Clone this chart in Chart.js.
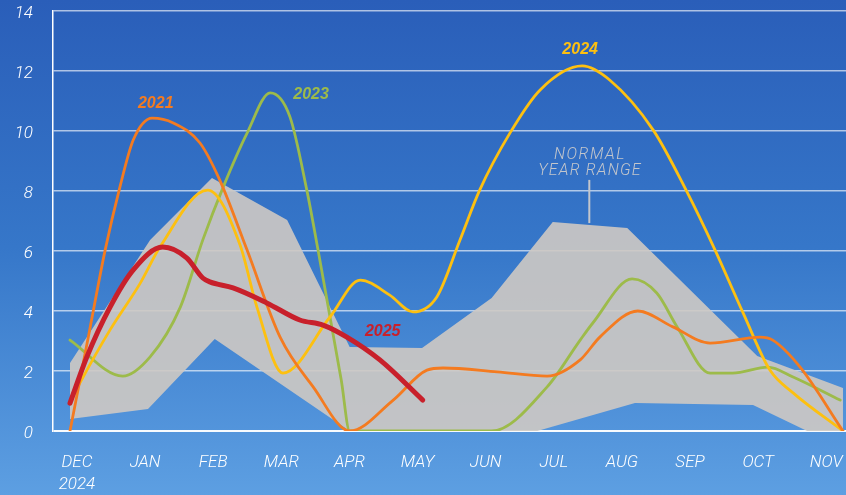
<!DOCTYPE html>
<html lang="en">
<head>
  <meta charset="UTF-8">
  <title>Monthly Range Chart</title>
  <script src="https://cdn.jsdelivr.net/npm/chart.js"></script>
  <style>
    html, body { margin: 0; padding: 0; }
    body {
      width: 846px;
      height: 495px;
      overflow: hidden;
      background: linear-gradient(180deg, #2a5eb9 0%, #3677c9 50%, #5d9fe2 100%);
    }
    canvas { display: block; }
  </style>
</head>
<body>
  <canvas id="chart" width="846" height="495"></canvas>

  <script>
    // months on the x axis (index 0 = DEC 2024)
    const months = ['DEC', 'JAN', 'FEB', 'MAR', 'APR', 'MAY', 'JUN', 'JUL', 'AUG', 'SEP', 'OCT', 'NOV'];
    const startYear = '2024';
    const yTicks = [0, 2, 4, 6, 8, 10, 12, 14];

    // normal year range (x = month index)
    const rangeTopX = [0, 1.14, 2.02, 3.09, 3.98, 5.01, 6.0, 6.87, 7.93, 9.78, 11];
    const rangeTop  = [2.27, 6.37, 8.43, 7.03, 2.8, 2.77, 4.43, 6.97, 6.77, 2.5, 1.43];
    const rangeLowX = [0, 1.11, 2.06, 3.98, 6.65, 8.04, 9.72, 10.49, 11];
    const rangeLow  = [0.4, 0.73, 3.07, 0, 0, 0.93, 0.87, 0, 0];

    // 2021
    const y2021X = [0, 0.28, 0.5, 0.71, 0.9, 1.17, 1.47, 1.85, 2.13, 2.52, 2.99, 3.46, 3.98, 4.6, 5.08, 5.31, 6.08, 6.79, 7.26, 7.54, 8.08, 8.58, 9.11, 9.82, 10.0, 10.39, 11];
    const y2021  = [0, 3.37, 6.03, 8.13, 9.7, 10.43, 10.27, 9.6, 8.37, 6.03, 3.13, 1.47, 0, 1.03, 2.03, 2.1, 1.97, 1.83, 2.37, 3.13, 4.0, 3.47, 2.93, 3.13, 3.03, 2.13, 0];

    // 2023
    const y2023X = [0, 0.75, 1.14, 1.57, 1.89, 2.18, 2.52, 2.85, 3.13, 3.37, 3.53, 3.86, 3.98, 6.0, 6.79, 7.26, 7.44, 8.0, 8.35, 8.64, 9.11, 9.43, 9.93, 10.29, 10.96];
    const y2023  = [3.03, 1.83, 2.47, 4.13, 6.37, 8.13, 9.93, 11.27, 10.47, 8.03, 6.03, 1.7, 0, 0, 1.47, 3.03, 3.6, 5.07, 4.6, 3.47, 1.93, 1.93, 2.13, 1.8, 1.03];

    // 2024
    const y2024X = [0, 0.14, 0.57, 1.0, 1.28, 1.96, 2.42, 2.66, 3.03, 3.7, 4.13, 4.55, 4.88, 5.22, 5.55, 5.83, 6.26, 6.69, 7.29, 7.68, 8.3, 8.78, 9.18, 9.58, 9.96, 10.29, 11];
    const y2024  = [0.97, 1.6, 3.37, 4.93, 6.13, 8.03, 6.2, 4.13, 1.93, 3.8, 5.03, 4.53, 3.97, 4.47, 6.37, 8.03, 9.93, 11.37, 12.17, 11.7, 10.03, 7.97, 6.03, 3.93, 2.03, 1.27, 0];

    // 2025
    const y2025X = [0, 0.24, 0.57, 0.9, 1.32, 1.66, 1.89, 1.99, 2.32, 2.8, 3.27, 3.6, 3.94, 4.41, 5.02];
    const y2025  = [0.93, 2.47, 4.13, 5.37, 6.13, 5.77, 5.1, 4.97, 4.77, 4.27, 3.7, 3.53, 3.13, 2.37, 1.03];

    const toPoints = (xs, ys) => xs.map((x, i) => ({ x: x, y: ys[i] }));

    // text tags, placed in data units
    const tags = [
      { text: '2021', x: 1.22, y: 10.9, color: '#f47b20', font: 'italic bold 16px "Liberation Sans", Arial, sans-serif' },
      { text: '2023', x: 3.43, y: 11.23, color: '#9dbb4a', font: 'italic bold 16px "Liberation Sans", Arial, sans-serif' },
      { text: '2024', x: 7.26, y: 12.73, color: '#fdc010', font: 'italic bold 16px "Liberation Sans", Arial, sans-serif' },
      { text: '2025', x: 4.45, y: 3.33, color: '#c8202b', font: 'italic bold 16px "Liberation Sans", Arial, sans-serif' },
      { text: 'NORMAL', x: 7.4, y: 9.2, color: '#c3c6cc', font: 'italic 300 16px Roboto, sans-serif', spacing: '1.5px' },
      { text: 'YEAR RANGE', x: 7.4, y: 8.67, color: '#c3c6cc', font: 'italic 300 16px Roboto, sans-serif', spacing: '1.2px' }
    ];

    const tagPlugin = {
      id: 'tags',
      afterDatasetsDraw(chart) {
        const ctx = chart.ctx;
        const xs = chart.scales.x, ys = chart.scales.y;
        ctx.save();
        ctx.textAlign = 'center';
        ctx.textBaseline = 'middle';
        tags.forEach(t => {
          ctx.font = t.font;
          ctx.fillStyle = t.color;
          ctx.letterSpacing = t.spacing || '0px';
          ctx.fillText(t.text, xs.getPixelForValue(t.x), ys.getPixelForValue(t.y));
        });
        ctx.restore();
      }
    };

    const lineStyle = (color, width, order) => ({
      borderColor: color,
      borderWidth: width,
      pointRadius: 0,
      cubicInterpolationMode: 'monotone',
      borderCapStyle: 'round',
      fill: false,
      order: order
    });

    const tickFont = { family: 'Roboto', style: 'italic', weight: 300, size: 17 };

    new Chart(document.getElementById('chart'), {
      type: 'line',
      data: {
        datasets: [
          Object.assign({ data: toPoints(y2025X, y2025) }, lineStyle('#c8202b', 5, 0)),
          Object.assign({ data: toPoints(y2021X, y2021) }, lineStyle('#f47b20', 2.8, 1)),
          Object.assign({ data: toPoints(y2024X, y2024) }, lineStyle('#fdc010', 2.8, 2)),
          Object.assign({ data: toPoints(y2023X, y2023) }, lineStyle('#9dbb4a', 2.8, 3)),
          {
            data: toPoints([7.39, 7.39], [6.93, 8.37]),
            borderColor: '#c3c6cc', borderWidth: 2, pointRadius: 0, tension: 0, fill: false, order: 4
          },
          {
            data: toPoints(rangeTopX, rangeTop),
            borderWidth: 0, pointRadius: 0, tension: 0,
            backgroundColor: 'rgba(206,201,195,0.9)',
            fill: '+1', order: 10
          },
          {
            data: toPoints(rangeLowX, rangeLow),
            borderWidth: 0, pointRadius: 0, tension: 0, fill: false, order: 11
          }
        ]
      },
      options: {
        responsive: false,
        animation: false,
        devicePixelRatio: 1,
        layout: { padding: { top: 11, right: 0, left: 0, bottom: 0 } },
        plugins: { legend: { display: false }, tooltip: { enabled: false } },
        scales: {
          x: {
            type: 'linear',
            min: -0.242,
            max: 11.043,
            display: false
          },
          months: {
            type: 'linear',
            position: 'bottom',
            min: -0.352,
            max: 11.29,
            afterBuildTicks: s => { s.ticks = months.map((m, i) => ({ value: i })); },
            afterFit: s => { s.height = 64; s.paddingLeft = 0; s.paddingRight = 0; },
            grid: { display: false, drawTicks: false },
            border: { display: false },
            ticks: {
              color: '#ffffff',
              padding: 21,
              maxRotation: 0,
              autoSkip: false,
              font: { family: 'Roboto', style: 'italic', weight: 300, size: 17, lineHeight: '22px' },
              callback: v => (v === 0 ? [months[0], startYear] : months[v])
            }
          },
          y: {
            min: 0,
            max: 14,
            afterBuildTicks: s => { s.ticks = yTicks.map(v => ({ value: v })); },
            afterFit: s => { s.width = 53; s.paddingTop = 0; s.paddingBottom = 0; },
            border: { display: true, color: '#ffffff', width: 1.5 },
            grid: {
              drawTicks: false,
              color: c => (c.tick.value === 0 ? 'rgba(255,255,255,0.95)' : 'rgba(255,255,255,0.62)'),
              lineWidth: c => (c.tick.value === 0 ? 2 : 1.5)
            },
            ticks: { color: '#ffffff', padding: 20, labelOffset: 3, font: tickFont }
          }
        }
      },
      plugins: [tagPlugin]
    });
  </script>
</body>
</html>
